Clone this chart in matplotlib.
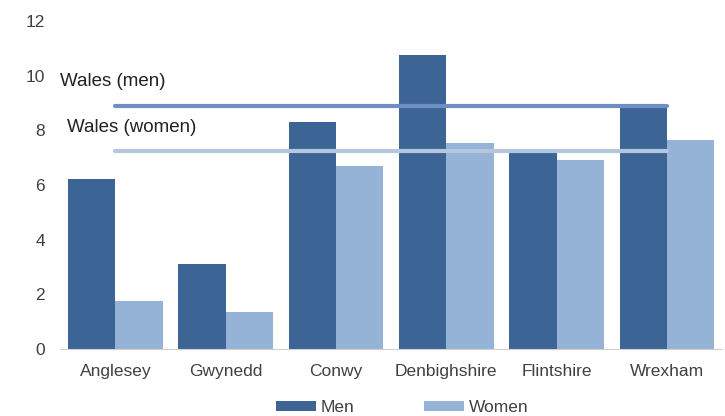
import numpy as np
import matplotlib.pyplot as plt

plt.rcParams['font.family'] = ['Liberation Sans', 'DejaVu Sans']

areas = ["Anglesey", "Gwynedd", "Conwy", "Denbighshire", "Flintshire", "Wrexham"]
men = [6.2, 3.1, 8.3, 10.75, 7.2, 8.9]
women = [1.75, 1.35, 6.7, 7.55, 6.9, 7.65]
wales_men = 8.9
wales_women = 7.25

men_col = "#3C6494"
women_col = "#95B3D7"
text_col = "#404040"

fig = plt.figure(figsize=(7.25, 4.16), dpi=100)
ax = fig.add_axes([0.083, 0.161, 0.913, 0.789])

x = np.arange(len(areas))
w = 0.43
ax.bar(x - w / 2, men, w, color=men_col, label="Men")
ax.bar(x + w / 2, women, w, color=women_col, label="Women")

# all-Wales reference lines
ax.plot([x[0], x[-1]], [wales_men, wales_men], color="#6F8FC4", lw=3, solid_capstyle="round")
ax.plot([x[0], x[-1]], [wales_women, wales_women], color="#B4C6E0", lw=3, solid_capstyle="round")
ax.text(-0.5, 9.77, "Wales (men)", fontsize=13.5, color="#222222", va="center", ha="left")
ax.text(-0.44, 8.09, "Wales (women)", fontsize=13.5, color="#222222", va="center", ha="left")

ax.set_xlim(-0.5, len(areas) - 0.5)
ax.set_ylim(0, 12)
ax.set_yticks(range(0, 13, 2))
ax.set_xticks(x)
ax.set_xticklabels(areas)
ax.tick_params(axis="both", length=0, labelsize=12.5, colors=text_col)
ax.tick_params(axis="x", pad=11)
ax.tick_params(axis="y", pad=11)
for s in ["top", "right", "left"]:
    ax.spines[s].set_visible(False)
ax.spines["bottom"].set_color("#D0D0D0")

fig.legend(loc="center", bbox_to_anchor=(0.555, 0.02), ncol=2, frameon=False,
           fontsize=12.5, handlelength=2.3, handleheight=0.5, columnspacing=4.0,
           handletextpad=0.3, labelcolor=text_col)

fig.savefig("out.png", dpi=100)
